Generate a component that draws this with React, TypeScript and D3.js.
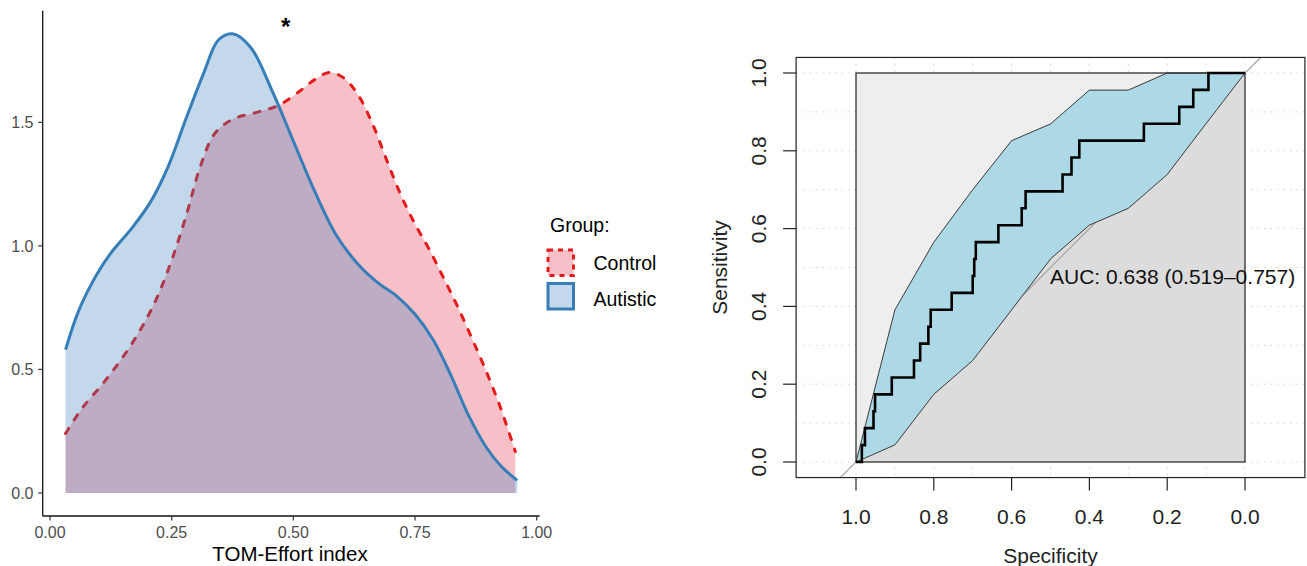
import React from 'react';
import * as d3 from 'd3';

const FONT = "'Liberation Sans', Arial, Helvetica, sans-serif";

// ---- left panel: density of TOM-Effort index by group ----
const groups = ['Control', 'Autistic'];
const groupColors = ['#E41A1C', '#377EB8'];
const groupFills = ['#E6304A', '#377EB8'];

const controlX = [0.032, 0.066, 0.11, 0.154, 0.191, 0.221, 0.25, 0.279, 0.309, 0.338, 0.375, 0.426, 0.471, 0.515, 0.544, 0.574, 0.603, 0.632, 0.662, 0.691, 0.721, 0.75, 0.779, 0.809, 0.838, 0.868, 0.897, 0.926, 0.956];
const controlY = [0.241, 0.343, 0.446, 0.562, 0.679, 0.796, 0.942, 1.117, 1.322, 1.453, 1.512, 1.541, 1.57, 1.629, 1.673, 1.702, 1.68, 1.614, 1.497, 1.351, 1.205, 1.088, 0.986, 0.869, 0.752, 0.621, 0.489, 0.343, 0.168];

const autisticX = [0.032, 0.059, 0.096, 0.125, 0.169, 0.206, 0.243, 0.279, 0.316, 0.346, 0.375, 0.412, 0.456, 0.5, 0.544, 0.588, 0.632, 0.676, 0.713, 0.75, 0.787, 0.824, 0.86, 0.897, 0.926, 0.96];
const autisticY = [0.58, 0.738, 0.884, 0.971, 1.074, 1.176, 1.322, 1.512, 1.7, 1.833, 1.858, 1.804, 1.629, 1.424, 1.22, 1.044, 0.928, 0.847, 0.796, 0.723, 0.621, 0.475, 0.314, 0.183, 0.11, 0.051];

const densXTicks = [0, 0.25, 0.5, 0.75, 1];
const densXLabels = ['0.00', '0.25', '0.50', '0.75', '1.00'];
const densYTicks = [0, 0.5, 1, 1.5];
const densYLabels = ['0.0', '0.5', '1.0', '1.5'];

// ---- right panel: ROC curve ----
const rocSpec = [1, 0.985, 0.977, 0.955, 0.951, 0.908, 0.851, 0.835, 0.814, 0.808, 0.754, 0.7, 0.696, 0.692, 0.634, 0.574, 0.564, 0.469, 0.446, 0.426, 0.26, 0.169, 0.133, 0.094, 0];
const rocCases = [0, 1, 2, 3, 4, 5, 6, 7, 8, 9, 10, 11, 12, 13, 14, 15, 16, 17, 18, 19, 20, 21, 22, 23, 23];
const nCases = 23;

const ciSpec = [1, 0.9, 0.8, 0.7, 0.6, 0.5, 0.4, 0.3, 0.2, 0.1, 0];
const ciUpper = [0, 0.391, 0.565, 0.7, 0.826, 0.869, 0.956, 0.956, 1, 1, 1];
const ciLower = [0, 0.044, 0.174, 0.261, 0.391, 0.522, 0.609, 0.652, 0.739, 0.87, 1];

const rocTicks = [0, 0.2, 0.4, 0.6, 0.8, 1];
const rocTickLabels = ['0.0', '0.2', '0.4', '0.6', '0.8', '1.0'];
const gridVals = d3.range(0, 11).map(d => d / 10);
const aucLabel = 'AUC: 0.638 (0.519\u20130.757)';

type P = [number, number];

const App = () => {
  // left scales
  const xL = d3.scaleLinear().domain([0, 1]).range([50, 536.7]);
  const yL = d3.scaleLinear().domain([0, 1.5]).range([493, 122.3]);
  const xMin = -0.015, xMax = 1.006, yMin = -0.093, yMax = 1.951;

  const area = d3.area<P>()
    .x(d => xL(d[0]))
    .y0(yL(0))
    .y1(d => yL(d[1]))
    .curve(d3.curveCatmullRom);
  const line = d3.line<P>()
    .x(d => xL(d[0]))
    .y(d => yL(d[1]))
    .curve(d3.curveCatmullRom);

  const controlPts: P[] = controlX.map((x, i) => [x, controlY[i]]);
  const autisticPts: P[] = autisticX.map((x, i) => [x, autisticY[i]]);

  // right scales
  const xR = d3.scaleLinear().domain([1, 0]).range([856, 1245]);
  const yR = d3.scaleLinear().domain([0, 1]).range([462, 73]);
  const specLo = 1.154, specHi = -0.154, sensLo = -0.04, sensHi = 1.04;

  const rocPts: P[] = rocSpec.map((s, i) => [s, rocCases[i] / nCases]);
  const rocLine = d3.line<P>().x(d => xR(d[0])).y(d => yR(d[1])).curve(d3.curveStepAfter);
  const rocArea = d3.area<P>().x(d => xR(d[0])).y0(yR(0)).y1(d => yR(d[1])).curve(d3.curveStepAfter);
  const ciArea = d3.area<number>()
    .x((_, i) => xR(ciSpec[i]))
    .y0((_, i) => yR(ciLower[i]))
    .y1((_, i) => yR(ciUpper[i]));

  const boxX = xR(specLo), boxW = xR(specHi) - xR(specLo);
  const boxY = yR(sensHi), boxH = yR(sensLo) - yR(sensHi);

  return (
    <svg width={1307} height={566} style={{ position: 'absolute', left: 0, top: 0, background: '#fff' }} fontFamily={FONT}>
      {/* ===== density panel ===== */}
      <path d={area(controlPts) || ''} fill={groupFills[0]} fillOpacity={0.3} />
      <path d={line(controlPts) || ''} fill="none" stroke={groupColors[0]} strokeWidth={3} strokeDasharray="6,10" strokeLinecap="round" />
      <path d={area(autisticPts) || ''} fill={groupFills[1]} fillOpacity={0.3} />
      <path d={line(autisticPts) || ''} fill="none" stroke={groupColors[1]} strokeWidth={3} />

      <line x1={xL(xMin)} x2={xL(xMax)} y1={yL(yMin)} y2={yL(yMin)} stroke="#111" strokeWidth={1.3} />
      <line x1={xL(xMin)} x2={xL(xMin)} y1={yL(yMin)} y2={yL(yMax)} stroke="#111" strokeWidth={1.3} />
      {densXTicks.map((t, i) => (
        <g key={'xt' + i}>
          <line x1={xL(t)} x2={xL(t)} y1={yL(yMin)} y2={yL(yMin) + 4.5} stroke="#333" strokeWidth={1.2} />
          <text x={xL(t)} y={537.5} textAnchor="middle" fontSize={16} fill="#4D4D4D">{densXLabels[i]}</text>
        </g>
      ))}
      {densYTicks.map((t, i) => (
        <g key={'yt' + i}>
          <line x1={xL(xMin) - 4.5} x2={xL(xMin)} y1={yL(t)} y2={yL(t)} stroke="#333" strokeWidth={1.2} />
          <text x={33.5} y={yL(t) + 5.7} textAnchor="end" fontSize={16} fill="#4D4D4D">{densYLabels[i]}</text>
        </g>
      ))}
      <text x={290} y={561} textAnchor="middle" fontSize={20.5} fill="#000">TOM-Effort index</text>
      <text x={285.7} y={35} textAnchor="middle" fontSize={24} fontWeight="bold" fill="#000">*</text>

      {/* legend */}
      <text x={550} y={232} fontSize={19.5} fill="#000">Group:</text>
      {groups.map((g, i) => (
        <g key={'lg' + i}>
          <rect x={548} y={250 + i * 33.5} width={25.5} height={25.5} fill={groupFills[i]} fillOpacity={0.3}
            stroke={groupColors[i]} strokeWidth={3} strokeDasharray={i === 0 ? '5,5' : undefined} />
          <text x={593.5} y={269.5 + i * 36.5} fontSize={19.5} fill="#000">{g}</text>
        </g>
      ))}

      {/* ===== ROC panel ===== */}
      <rect x={boxX} y={boxY} width={boxW} height={boxH} fill="#fff" />
      {gridVals.map((g, i) => (
        <g key={'gr' + i}>
          <line x1={boxX} x2={boxX + boxW} y1={yR(g)} y2={yR(g)} stroke="#D3D3D3" strokeWidth={1} strokeDasharray="1.5,5" />
          <line x1={xR(g)} x2={xR(g)} y1={boxY} y2={boxY + boxH} stroke="#D3D3D3" strokeWidth={1} strokeDasharray="1.5,5" />
        </g>
      ))}
      <rect x={xR(1)} y={yR(1)} width={xR(0) - xR(1)} height={yR(0) - yR(1)} fill="#EEEEEE" />
      <path d={rocArea(rocPts) || ''} fill="#DCDCDC" />
      <line x1={xR(1 - sensLo)} y1={yR(sensLo)} x2={xR(1 - sensHi)} y2={yR(sensHi)} stroke="#A9A9A9" strokeWidth={1.3} />
      <path d={ciArea(ciSpec) || ''} fill="#ADD8E6" stroke="#3a3a3a" strokeWidth={1} />
      <rect x={xR(1)} y={yR(1)} width={xR(0) - xR(1)} height={yR(0) - yR(1)} fill="none" stroke="#222" strokeWidth={1.2} />
      <path d={rocLine(rocPts) || ''} fill="none" stroke="#000" strokeWidth={2.6} />
      <text x={1050} y={283.5} fontSize={21} fill="#111">{aucLabel}</text>

      <rect x={boxX} y={boxY} width={boxW} height={boxH} fill="none" stroke="#222" strokeWidth={1.2} />
      {rocTicks.map((t, i) => (
        <g key={'rt' + i}>
          <line x1={boxX - 13} x2={boxX} y1={yR(t)} y2={yR(t)} stroke="#222" strokeWidth={1.2} />
          <text transform={`translate(766,${yR(t)}) rotate(-90)`} textAnchor="middle" fontSize={21} fill="#222">{rocTickLabels[i]}</text>
          <line x1={xR(t)} x2={xR(t)} y1={boxY + boxH} y2={boxY + boxH + 13} stroke="#222" strokeWidth={1.2} />
          <text x={xR(t)} y={524} textAnchor="middle" fontSize={21} fill="#222">{rocTickLabels[i]}</text>
        </g>
      ))}
      <text transform={`translate(727,${yR(0.5)}) rotate(-90)`} textAnchor="middle" fontSize={21} fill="#222">Sensitivity</text>
      <text x={xR(0.5)} y={563} textAnchor="middle" fontSize={21} fill="#222">Specificity</text>
    </svg>
  );
};

export default App;
